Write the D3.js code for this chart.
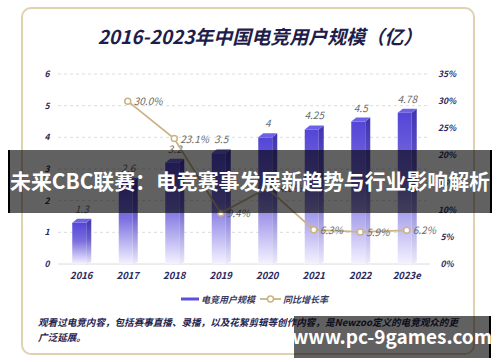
<!DOCTYPE html>
<html lang="zh">
<head>
<meta charset="UTF-8" />
<title>2016-2023年中国电竞用户规模</title>
<script src="https://d3js.org/d3.v7.min.js"></script>
<style>
  body { margin: 0; background: #fff; }
  svg text { font-family: "Noto Sans CJK SC", "Noto Sans", sans-serif; }
</style>
</head>
<body>
<svg width="500" height="362"></svg>
<script>
const years = ["2016", "2017", "2018", "2019", "2020", "2021", "2022", "2023e"];
const users = [1.3, 2.6, 3.2, 3.5, 4, 4.25, 4.5, 4.78];          // 亿
const growth = [null, 30.0, 23.1, 9.4, 14.0, 6.3, 5.9, 6.2];       // %
const leftTicks = [0, 1, 2, 3, 4, 5, 6];
const rightTicks = [0, 5, 10, 15, 20, 25, 30, 35];

const svg = d3.select("svg");
const navy = "#2b2a5e";
const tan = "#c9b486";

// card
svg.append("rect")
  .attr("x", 22).attr("y", 8).attr("width", 452).attr("height", 346)
  .attr("rx", 9).attr("fill", "#fff")
  .attr("stroke", "#e0d2b0").attr("stroke-width", 2);

svg.append("text")
  .attr("x", 260).attr("y", 44)
  .attr("text-anchor", "middle")
  .attr("font-size", 19).attr("font-weight", "bold").attr("font-style", "italic")
  .attr("fill", "#1f1d4a")
  .text("2016-2023年中国电竞用户规模（亿）");

const x = d3.scaleBand().domain(years).range([58, 430]);
const y = d3.scaleLinear().domain([0, 6]).range([264, 74]);
const y2 = d3.scaleLinear().domain([0, 35]).range([264, 74]);

// grid
svg.append("g").selectAll("line")
  .data(leftTicks.filter(d => d > 0))
  .join("line")
  .attr("x1", 58).attr("x2", 430)
  .attr("y1", d => y(d)).attr("y2", d => y(d))
  .attr("stroke", "#dcdcdc").attr("stroke-dasharray", "3,3");
svg.append("line")
  .attr("x1", 58).attr("x2", 430).attr("y1", y(0)).attr("y2", y(0))
  .attr("stroke", "#dcdcdc");

// axes
const axisText = sel => sel.attr("font-size", 8.5).attr("font-weight", "bold")
  .attr("font-style", "italic").attr("fill", navy);

svg.append("g").selectAll("text")
  .data(leftTicks).join("text")
  .attr("x", 47).attr("y", d => y(d) + 3)
  .attr("text-anchor", "middle")
  .call(axisText)
  .text(d => d);

svg.append("g").selectAll("text")
  .data(rightTicks).join("text")
  .attr("x", 447).attr("y", d => y2(d) + 3)
  .attr("text-anchor", "middle")
  .call(axisText)
  .text(d => d + "%");

svg.append("g").selectAll("text")
  .data(years).join("text")
  .attr("x", d => x(d) + x.bandwidth() / 2).attr("y", 279)
  .attr("text-anchor", "middle")
  .attr("font-size", 9.5).attr("font-weight", "bold")
  .attr("font-style", "italic").attr("fill", navy)
  .text(d => d);

// gradients
const defs = svg.append("defs");
const gFront = defs.append("linearGradient").attr("id", "front")
  .attr("x1", 0).attr("y1", 0).attr("x2", 0).attr("y2", 1);
gFront.append("stop").attr("offset", "0%").attr("stop-color", "#5446d6");
gFront.append("stop").attr("offset", "45%").attr("stop-color", "#7c70e0");
gFront.append("stop").attr("offset", "100%").attr("stop-color", "#f4f2ff");
const gSide = defs.append("linearGradient").attr("id", "side")
  .attr("x1", 0).attr("y1", 0).attr("x2", 0).attr("y2", 1);
gSide.append("stop").attr("offset", "0%").attr("stop-color", "#3f33b0");
gSide.append("stop").attr("offset", "45%").attr("stop-color", "#6a5fcf");
gSide.append("stop").attr("offset", "100%").attr("stop-color", "#ecebfb");

// bars (3d look)
const data = years.map((yr, i) => ({ yr, v: users[i], g: growth[i] }));
const fw = 14, sw = 5, dz = 4;
const bars = svg.append("g").selectAll("g").data(data).join("g")
  .attr("transform", d => `translate(${x(d.yr) + x.bandwidth() / 2 - 9},0)`);

bars.append("rect")
  .attr("x", 0).attr("y", d => y(d.v))
  .attr("width", fw).attr("height", d => y(0) - y(d.v))
  .attr("fill", "url(#front)");
bars.append("path")
  .attr("d", d => `M${fw},${y(d.v)} L${fw + sw},${y(d.v) - dz} L${fw + sw},${y(0) - 2} L${fw},${y(0)} Z`)
  .attr("fill", "url(#side)");
bars.append("path")
  .attr("d", d => `M0,${y(d.v)} L${sw},${y(d.v) - dz} L${fw + sw},${y(d.v) - dz} L${fw},${y(d.v)} Z`)
  .attr("fill", "#6d62e4");

bars.append("text")
  .attr("x", (fw + sw) / 2).attr("y", d => y(d.v) - 10)
  .attr("text-anchor", "middle")
  .attr("font-size", 10).attr("font-style", "italic").attr("fill", "#6a6a6a")
  .text(d => d.v);

// growth line
const pts = data.filter(d => d.g != null);
const cx = d => x(d.yr) + x.bandwidth() / 2;
svg.append("path")
  .datum(pts)
  .attr("d", d3.line().x(cx).y(d => y2(d.g)))
  .attr("fill", "none").attr("stroke", tan).attr("stroke-width", 1.8);
svg.append("g").selectAll("circle").data(pts).join("circle")
  .attr("cx", cx).attr("cy", d => y2(d.g)).attr("r", 3)
  .attr("fill", "#fff").attr("stroke", tan).attr("stroke-width", 1.5);
svg.append("g").selectAll("text").data(pts).join("text")
  .attr("x", d => cx(d) + 6).attr("y", d => y2(d.g) + 4)
  .attr("font-size", 10).attr("font-style", "italic").attr("fill", "#6a6a6a")
  .text(d => d.g.toFixed(1) + "%");

// legend
const legText = sel => sel.attr("font-size", 9).attr("font-weight", "bold")
  .attr("font-style", "italic").attr("fill", "#3a3960");
svg.append("rect").attr("x", 181).attr("y", 297.5).attr("width", 18).attr("height", 3)
  .attr("fill", "#5b50d8");
svg.append("text").attr("x", 201).attr("y", 302.5).call(legText).text("电竞用户规模");
svg.append("line").attr("x1", 260).attr("x2", 281).attr("y1", 299).attr("y2", 299)
  .attr("stroke", tan).attr("stroke-width", 1.8);
svg.append("circle").attr("cx", 270.5).attr("cy", 299).attr("r", 3)
  .attr("fill", "#fff").attr("stroke", tan).attr("stroke-width", 1.5);
svg.append("text").attr("x", 283).attr("y", 302.5).call(legText).text("同比增长率");

// footnote
const noteText = sel => sel.attr("font-size", 9.6).attr("font-weight", "bold")
  .attr("font-style", "italic").attr("fill", "#26244f");
svg.append("text").attr("x", 38).attr("y", 326).call(noteText)
  .attr("textLength", 420).attr("lengthAdjust", "spacingAndGlyphs")
  .text("观看过电竞内容，包括赛事直播、录播，以及花絮剪辑等创作内容，是Newzoo定义的电竞观众的更");
svg.append("text").attr("x", 38).attr("y", 341).call(noteText).text("广泛延展。");

// overlay banner
svg.append("rect").attr("x", 8).attr("y", 150).attr("width", 484).attr("height", 63)
  .attr("fill", "rgba(0,0,0,0.62)");
svg.append("rect").attr("x", 8).attr("y", 150).attr("width", 2).attr("height", 63).attr("fill", "#000");
svg.append("rect").attr("x", 490).attr("y", 150).attr("width", 2).attr("height", 63).attr("fill", "#000");
svg.append("text").attr("x", 250).attr("y", 189)
  .attr("text-anchor", "middle")
  .attr("font-size", 21).attr("font-weight", "bold").attr("fill", "#fff")
  .attr("textLength", 480).attr("lengthAdjust", "spacingAndGlyphs")
  .text("未来CBC联赛：电竞赛事发展新趋势与行业影响解析");

// watermark
svg.append("rect").attr("x", 294).attr("y", 316).attr("width", 197).attr("height", 42)
  .attr("fill", "rgba(0,0,0,0.62)");
svg.append("rect").attr("x", 489).attr("y", 316).attr("width", 2).attr("height", 42).attr("fill", "#000");
svg.append("text").attr("x", 392).attr("y", 344)
  .attr("text-anchor", "middle")
  .attr("font-size", 19).attr("font-weight", "bold").attr("fill", "#fff")
  .attr("font-family", "Noto Sans, sans-serif")
  .text("www.pc-9games.com");
</script>
</body>
</html>
